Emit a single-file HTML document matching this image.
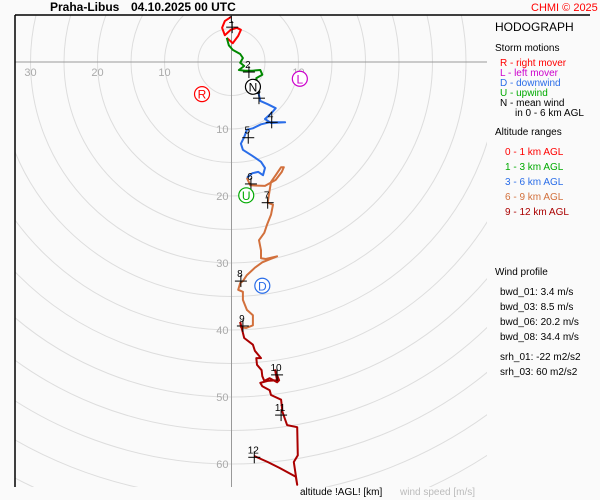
<!DOCTYPE html>
<html><head><meta charset="utf-8"><style>
html,body{margin:0;padding:0;background:#fafafa;overflow:hidden;width:600px;height:500px;}
svg{display:block;font-family:"Liberation Sans","DejaVu Sans",sans-serif;}
</style></head><body>
<svg id="chart" width="600" height="500" viewBox="0 0 600 500" xmlns="http://www.w3.org/2000/svg">
<rect x="0" y="0" width="600" height="500" fill="#fafafa"/>
<defs><clipPath id="pc"><rect x="15" y="15" width="472" height="472"/></clipPath></defs>
<g id="grid" clip-path="url(#pc)"></g>
<line x1="15" y1="15" x2="590" y2="15" stroke="#000" stroke-width="1.5"/>
<line x1="15" y1="15" x2="15" y2="487" stroke="#000" stroke-width="1.5"/>
<g id="traces" clip-path="url(#pc)"></g>
<g id="marks"></g>
<text x="50" y="11" font-size="12" font-weight="bold">Praha-Libus</text>
<text x="131" y="11" font-size="12" font-weight="bold">04.10.2025 00 UTC</text>
<text x="531" y="11" font-size="11" fill="#f00">CHMI © 2025</text>
<g font-size="11">
<text x="495" y="31" font-size="12">HODOGRAPH</text>
<text x="495" y="51" font-size="10">Storm motions</text>
<text x="500" y="66" font-size="10" fill="#f00">R - right mover</text>
<text x="500" y="76" font-size="10" fill="#c0c">L - left mover</text>
<text x="500" y="86" font-size="10" fill="#2a6de8">D - downwind</text>
<text x="500" y="96" font-size="10" fill="#0a0">U - upwind</text>
<text x="500" y="106" font-size="10" fill="#000">N - mean wind</text>
<text x="515" y="116" font-size="10" fill="#000">in 0 - 6 km AGL</text>
<text x="495" y="135" font-size="10">Altitude ranges</text>
<text x="505" y="155" font-size="10" fill="#f00">0 - 1 km AGL</text>
<text x="505" y="170" font-size="10" fill="#0a0">1 - 3 km AGL</text>
<text x="505" y="185" font-size="10" fill="#2a6de8">3 - 6 km AGL</text>
<text x="505" y="200" font-size="10" fill="#d2703c">6 - 9 km AGL</text>
<text x="505" y="215" font-size="10" fill="#a00">9 - 12 km AGL</text>
<text x="495" y="275" font-size="10">Wind profile</text>
<text x="500" y="295" font-size="10">bwd_01: 3.4 m/s</text>
<text x="500" y="310" font-size="10">bwd_03: 8.5 m/s</text>
<text x="500" y="325" font-size="10">bwd_06: 20.2 m/s</text>
<text x="500" y="340" font-size="10">bwd_08: 34.4 m/s</text>
<text x="500" y="360" font-size="10">srh_01: -22 m2/s2</text>
<text x="500" y="375" font-size="10">srh_03: 60 m2/s2</text>
</g>
<text x="300" y="495" font-size="10">altitude !AGL! [km]</text>
<text x="400" y="495" font-size="10" fill="#bbb">wind speed [m/s]</text>
</svg>
<script>
const redU=[-0.1,-1.0,-1.4,-1.0,-0.1,0.8,1.4,1.0,0.2,-0.7];
const redV=[6.7,6.1,5.1,4.0,4.8,5.1,4.8,3.9,2.8,3.6];
const greenU=[-0.7,-0.4,0.2,1.3,1.7,1.3,1.9,1.1,2.0,3.1,4.3,4.6,3.7,4.0];
const greenV=[3.6,2.5,1.8,1.2,0.6,-0.1,-0.6,-1.2,-1.3,-1.3,-1.2,-1.9,-2.4,-4.5];
const blueU=[4.0,4.3,5.4,6.6,6.0,5.0,5.9,8.0,5.7,4.4,3.2,2.3,1.9,1.4,1.7,3.1,4.4,5.0,4.7,4.0,3.1,2.3];
const blueV=[-4.5,-5.8,-6.3,-6.9,-7.6,-8.5,-9.1,-9.0,-9.0,-9.3,-9.9,-10.1,-11.2,-12.2,-13.1,-14.0,-14.9,-15.8,-16.9,-16.4,-16.6,-17.3];
const orangeU=[2.3,2.8,5.0,6.6,7.5,7.8,7.4,6.6,5.9,5.7,5.4,6.2,5.9,5.3,4.9,4.1,4.4,4.4,5.1,6.8,4.6,3.5,2.3,1.7,1.3,1.0,1.7,1.7,2.3,3.2,3.2,2.2,1.4,1.3];
const orangeV=[-17.3,-18.4,-18.5,-17.6,-16.4,-15.7,-15.7,-16.9,-17.9,-19.1,-21.0,-21.3,-22.8,-24.3,-25.5,-26.6,-28.1,-29.3,-29.4,-29.0,-29.9,-30.7,-31.8,-32.7,-33.0,-34.0,-34.3,-35.5,-37.0,-37.8,-39.3,-39.7,-39.6,-38.8];
const darkU=[1.3,1.9,3.2,3.5,4.4,3.7,3.8,4.5,4.6,4.9,5.7,6.8,7.1,6.5,6.8,5.4,4.3,4.6,5.7,5.9,7.4,7.6,8.3,9.8,9.9,9.3,9.8,9.6,7.2,5.4,3.4];
const darkV=[-38.8,-41.2,-42.2,-43.1,-44.2,-44.2,-45.2,-46.0,-46.9,-47.6,-47.2,-47.8,-47.5,-46.0,-47.5,-47.6,-47.9,-48.4,-49.0,-49.7,-50.4,-52.2,-54.2,-54.5,-58.7,-59.7,-63.1,-61.9,-60.6,-59.7,-58.8];
const kmLabels=["1","2","3","4","5","6","7","8","9","10","11","12"];
const kmU=[0.1,2.6,4.1,6.0,2.5,2.9,5.4,1.4,1.7,6.8,7.4,3.4];
const kmV=[5.2,-1.5,-5.4,-9.0,-11.3,-18.2,-21.0,-32.7,-39.4,-46.7,-52.7,-59.0];
const stormNames=["R","L","N","U","D"];
const stormU=[-4.4,10.2,3.2,2.2,4.6];
const stormV=[-4.8,-2.5,-3.7,-19.9,-33.4];
const ringSpeeds=[5,10,15,20,25,30,35,40,45,50,55,60,65,70];
const xTicks=[-30,-20,-10,10];
const yTicks=[-10,-20,-30,-40,-50,-60];

const NS="http://www.w3.org/2000/svg";
const X0=231.5,Y0=62,K=6.7;
const sx=u=>X0+u*K, sy=v=>Y0-v*K;
function mk(tag,attrs,parent){const e=document.createElementNS(NS,tag);for(const k in attrs)e.setAttribute(k,attrs[k]);parent.appendChild(e);return e;}
const grid=document.getElementById('grid'),traces=document.getElementById('traces'),marks=document.getElementById('marks');
ringSpeeds.forEach(s=>{
  const c=mk('circle',{cx:X0,cy:Y0,r:s*K,fill:'none',stroke:'#ddd','stroke-width':1},grid);
  
  
});
let a=mk('line',{x1:15,y1:Y0,x2:487,y2:Y0,stroke:'#999','stroke-width':1},grid);


a=mk('line',{x1:X0,y1:15,x2:X0,y2:487,stroke:'#999','stroke-width':1},grid);


xTicks.forEach(t=>{
  const e=mk('text',{x:sx(t),y:Y0+14,'font-size':11,fill:'#aaa','text-anchor':'middle'},grid);
  e.textContent=Math.abs(t);
  
  
});
yTicks.forEach(t=>{
  const e=mk('text',{x:X0-3,y:sy(t)+4,'font-size':11,fill:'#aaa','text-anchor':'end'},grid);
  e.textContent=Math.abs(t);
  
  
});
function trace(U,V,col,name){
  const p=U.map((u,i)=>sx(u).toFixed(1)+','+sy(V[i]).toFixed(1)).join(' ');
  const e=mk('polyline',{points:p,fill:'none',stroke:col,'stroke-width':2,'stroke-linejoin':'round'},traces);
  
  
}
trace(redU,redV,'#f00','trace-0-1km');
trace(greenU,greenV,'#080','trace-1-3km');
trace(blueU,blueV,'#2a6de8','trace-3-6km');
trace(orangeU,orangeV,'#d2703c','trace-6-9km');
trace(darkU,darkV,'#a00','trace-9-12km');
kmLabels.forEach((l,i)=>{
  const x=sx(kmU[i]),y=sy(kmV[i]);
  const g=mk('g',{},marks);
  
  
  mk('line',{x1:x-6,y1:y,x2:x+6,y2:y,stroke:'#000','stroke-width':1},g);
  mk('line',{x1:x,y1:y-6,x2:x,y2:y+6,stroke:'#000','stroke-width':1},g);
  const t=mk('text',{x:x-1,y:y-4,'font-size':10,fill:'#000','text-anchor':'middle'},g);
  t.textContent=l;
});
const stormCols={R:'#f00',L:'#c0c',N:'#000',U:'#0a0',D:'#2a6de8'};
stormNames.forEach((n,i)=>{
  const x=sx(stormU[i]),y=sy(stormV[i]);
  const g=mk('g',{},marks);
  
  
  mk('circle',{cx:x,cy:y,r:7.5,fill:'#fff',stroke:stormCols[n],'stroke-width':1.2},g);
  const t=mk('text',{x:x,y:y+4.5,'font-size':12,fill:stormCols[n],'text-anchor':'middle'},g);
  t.textContent=n;
});
</script>
</body></html>
